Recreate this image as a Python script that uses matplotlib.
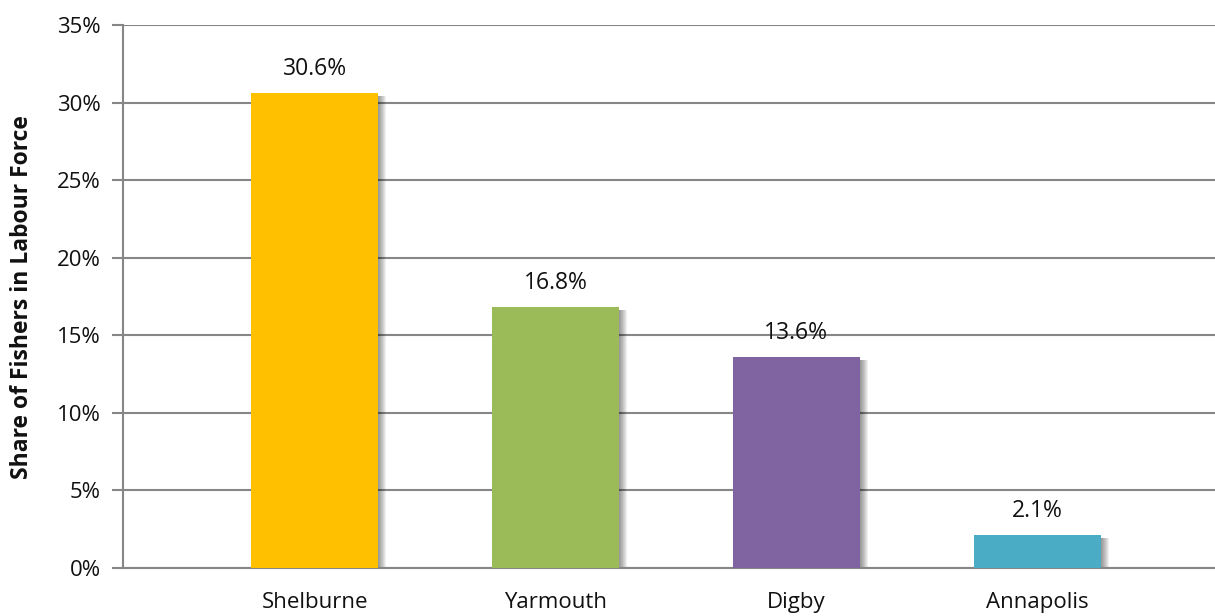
import matplotlib
matplotlib.use("Agg")
import matplotlib.pyplot as plt
from matplotlib.patches import Rectangle
from matplotlib.ticker import FuncFormatter, MultipleLocator

plt.rcParams['font.family'] = ['Open Sans', 'DejaVu Sans']

counties = ["Shelburne", "Yarmouth", "Digby", "Annapolis"]
share_pct = [30.6, 16.8, 13.6, 2.1]
bar_colors = ["#FFC000", "#9BBB59", "#8064A2", "#4BACC6"]

W, H = 1215, 616
fig = plt.figure(figsize=(W / 100, H / 100), dpi=100)
ax = fig.add_axes([123 / W, 1 - 568 / H, (W - 123) / W, (568 - 25) / H])

px_per_x = 241.0
bar_w = 127 / px_per_x
x = list(range(len(counties)))

# soft drop shadow to the right of each bar
px_per_y = 543 / 35.0
for xi, v in zip(x, share_pct):
    for k in range(1, 9):
        dx = k / px_per_x
        dy = 2.5 / px_per_y
        ax.add_patch(Rectangle((xi - bar_w / 2 + dx, 0), bar_w, v - dy,
                               facecolor="black", alpha=0.06, lw=0, zorder=2))

bars = ax.bar(x, share_pct, width=bar_w, color=bar_colors, zorder=3)

for xi, v in zip(x, share_pct):
    ax.annotate(f"{v:.1f}%", (xi, v), xytext=(0, 9), textcoords="offset points",
                ha="center", va="bottom", fontsize=16.5, color="#111111", zorder=4)

ax.set_ylim(0, 35)
ax.set_xlim(-192 / px_per_x, (W - 314) / px_per_x)
ax.yaxis.set_major_locator(MultipleLocator(5))
ax.yaxis.set_major_formatter(FuncFormatter(lambda v, _: f"{v:.0f}%"))
ax.grid(axis="y", color="#868686", lw=1.5, zorder=0)
ax.set_axisbelow(True)

ax.set_xticks(x)
ax.set_xticklabels(counties)
ax.tick_params(axis="x", length=0, pad=17, labelsize=16, labelcolor="#111111")
ax.tick_params(axis="y", length=8, width=1.5, color="#868686", pad=8,
               labelsize=16, labelcolor="#111111")

for s in ["top", "right"]:
    ax.spines[s].set_visible(False)
for s in ["left", "bottom"]:
    ax.spines[s].set_color("#868686")
    ax.spines[s].set_linewidth(1.5)

fig.text(22 / W, 1 - 297 / H, "Share of Fishers in Labour Force", rotation=90,
         ha="center", va="center", fontsize=16.5, fontweight="bold", color="#111111")

fig.savefig("out.png", dpi=100)
